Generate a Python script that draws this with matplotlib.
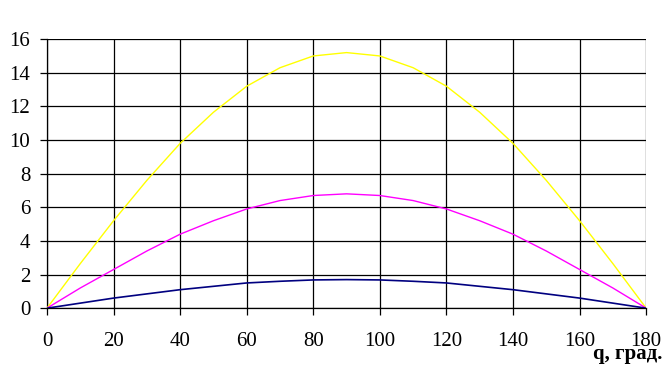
import matplotlib as mpl
import matplotlib.pyplot as plt

# angle, degrees
theta = [0, 10, 20, 30, 40, 50, 60, 70, 80, 90, 100, 110, 120, 130, 140, 150, 160, 170, 180]

yellow = [0, 2.65, 5.2, 7.6, 9.8, 11.65, 13.2, 14.3, 15.0, 15.2, 15.0, 14.3, 13.2, 11.65, 9.8, 7.6, 5.2, 2.65, 0]
magenta = [0, 1.2, 2.3, 3.4, 4.4, 5.2, 5.9, 6.4, 6.7, 6.8, 6.7, 6.4, 5.9, 5.2, 4.4, 3.4, 2.3, 1.2, 0]
navy = [0, 0.3, 0.6, 0.85, 1.1, 1.3, 1.5, 1.6, 1.68, 1.7, 1.68, 1.6, 1.5, 1.3, 1.1, 0.85, 0.6, 0.3, 0]

xticks = [0, 20, 40, 60, 80, 100, 120, 140, 160, 180]
yticks = [0, 2, 4, 6, 8, 10, 12, 14, 16]

mpl.rcParams.update(
    {
        "font.family": ["Liberation Serif", "DejaVu Serif"],
        "font.size": 15,
    }
)

fig = plt.figure(figsize=(6.71, 3.80), dpi=100)
ax = fig.add_axes([0.070, 0.189, 0.893, 0.708])

ax.plot(theta, yellow, color="#ffff00", lw=1.0, zorder=3)
ax.plot(theta, magenta, color="#ff00ff", lw=1.0, zorder=3)
ax.plot(theta, navy, color="#000080", lw=1.2, zorder=3)

ax.set_xlim(0, 180)
ax.set_ylim(0, 16)
ax.set_xticks(xticks)
ax.set_yticks(yticks)
ax.grid(True, color="black", lw=0.9)
ax.set_axisbelow(True)
for s in ["top", "right"]:
    ax.spines[s].set_visible(False)
for s in ["left", "bottom"]:
    ax.spines[s].set_linewidth(0.9)
ax.tick_params(axis="x", length=5, width=0.9, pad=12)
ax.tick_params(axis="y", length=5, width=0.9, pad=7)

fig.text(662 / 671, 1 - 359 / 380, "q, град.", ha="right", va="baseline",
         fontweight="bold", fontsize=15)

fig.savefig("out.png", dpi=100)
